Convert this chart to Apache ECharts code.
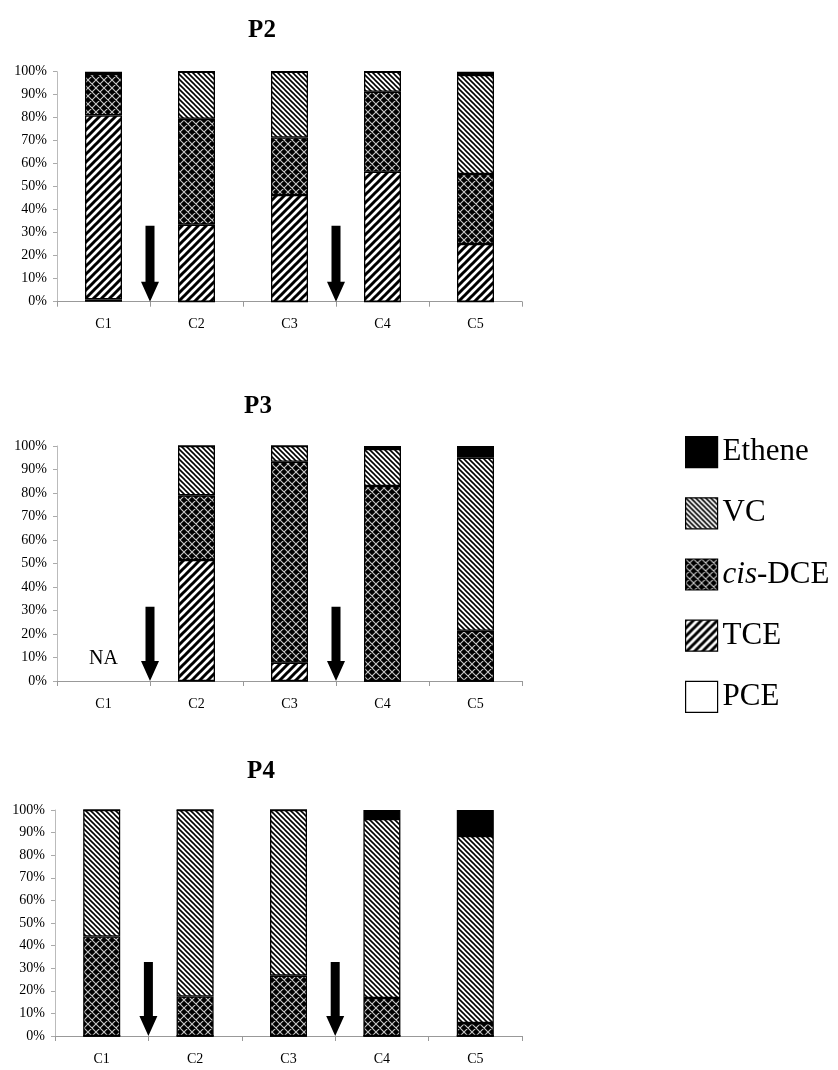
<!DOCTYPE html>
<html>
<head>
<meta charset="utf-8">
<script src="https://cdn.jsdelivr.net/npm/echarts@6/dist/echarts.min.js"></script>
<style>
html,body{margin:0;padding:0;background:#fff;}
#chart{width:838px;height:1070px;}
</style>
</head>
<body>
<div id="chart"></div>
<script>
// ---------- data ----------
const categories = ['C1', 'C2', 'C3', 'C4', 'C5'];
const seriesNames = ['PCE', 'TCE', 'cis-DCE', 'VC', 'Ethene'];
const panelTitles = ['P2', 'P3', 'P4'];
const yTicks = [0, 10, 20, 30, 40, 50, 60, 70, 80, 90, 100];

// P2 (% of total per sample)
const p2PCE    = [1,   0,    0,    0,    0];
const p2TCE    = [80,  33.5, 46.4, 56.5, 25.1];
const p2DCE    = [18,  46,   25,   34.8, 30.4];
const p2VC     = [0,   20.5, 28.6, 8.7,  43.1];
const p2Ethene = [1,   0,    0,    0,    1.4];

// P3 (C1 not available)
const p3PCE    = [null, 0,    0,    0,    0];
const p3TCE    = [null, 51.5, 7.8,  0,    0];
const p3DCE    = [null, 27.5, 85.5, 83,   21.4];
const p3VC     = [null, 21,   6.7,  15.7, 73.6];
const p3Ethene = [null, 0,    0,    1.3,  5];

// P4
const p4PCE    = [0,    0,    0,    0,    0];
const p4TCE    = [0,    0,    0,    0,    0];
const p4DCE    = [44,   17.5, 26.7, 16.8, 5.7];
const p4VC     = [56,   82.5, 73.3, 79.2, 82.8];
const p4Ethene = [0,    0,    0,    4,    11.5];

// arrows between categories: [category after which arrow sits, arrow top (%)]
const p2Arrows = [['C1', 33], ['C3', 33]];
const p3Arrows = [['C1', 31.6], ['C3', 31.6]];
const p4Arrows = [['C1', 32.7], ['C3', 32.7]];
// text notes
const p3Notes = [['C1', 'NA']];

// ---------- patterns ----------
function stripeTile(size, lw, dir, bg, fg) {
  const c = document.createElement('canvas');
  c.width = size; c.height = size;
  const x = c.getContext('2d');
  x.fillStyle = bg; x.fillRect(0, 0, size, size);
  x.strokeStyle = fg; x.lineWidth = lw; x.lineCap = 'square';
  x.beginPath();
  for (let k = -1; k <= 1; k++) {
    if (dir === '/' || dir === 'x') { x.moveTo(k * size, size); x.lineTo(k * size + size, 0); }
    if (dir === '\\' || dir === 'x') { x.moveTo(k * size, 0); x.lineTo(k * size + size, size); }
  }
  x.stroke();
  return c;
}
const fills = {
  'PCE': '#ffffff',
  'TCE': { image: stripeTile(8, 3, '/', '#ffffff', '#000000'), repeat: 'repeat' },
  'cis-DCE': { image: stripeTile(8, 1.1, 'x', '#000000', '#c8c8c8'), repeat: 'repeat' },
  'VC': { image: stripeTile(5, 1.6, '\\', '#ffffff', '#000000'), repeat: 'repeat' },
  'Ethene': '#000000'
};

const panels = [
  { title: panelTitles[0], data: [p2PCE, p2TCE, p2DCE, p2VC, p2Ethene], arrows: p2Arrows, notes: [] },
  { title: panelTitles[1], data: [p3PCE, p3TCE, p3DCE, p3VC, p3Ethene], arrows: p3Arrows, notes: p3Notes },
  { title: panelTitles[2], data: [p4PCE, p4TCE, p4DCE, p4VC, p4Ethene], arrows: p4Arrows, notes: [] }
];
const gridPos = [
  { left: 57, width: 465, top: 71.7, height: 230 },
  { left: 57, width: 465, top: 446, height: 235 },
  { left: 55, width: 467, top: 810, height: 226 }
];
const titlePos = [
  { left: 257, top: 13 },
  { left: 253, top: 389 },
  { left: 256, top: 754 }
];

const FONT = '"Liberation Serif", "Times New Roman", serif';

const option = {
  animation: false,
  backgroundColor: '#fff',
  title: panels.map((p, i) => ({
    text: p.title, left: titlePos[i].left, top: titlePos[i].top, textAlign: 'center',
    textStyle: { fontFamily: FONT, fontWeight: 'bold', fontSize: 25, color: '#000' }
  })),
  grid: gridPos.map(g => Object.assign({ containLabel: false }, g)),
  xAxis: panels.map((p, i) => ({
    type: 'category', gridIndex: i, data: categories,
    axisLine: { lineStyle: { color: '#999', width: 1 } },
    axisTick: { show: true, length: 5, lineStyle: { color: '#999' } },
    axisLabel: { fontFamily: FONT, fontSize: 14, color: '#000', margin: 16 }
  })),
  yAxis: panels.map((p, i) => ({
    type: 'value', gridIndex: i, min: yTicks[0], max: yTicks[yTicks.length - 1], interval: 10,
    axisLine: { show: true, lineStyle: { color: '#bbb', width: 1 } },
    axisTick: { show: true, length: 4, lineStyle: { color: '#aaa' } },
    splitLine: { show: false },
    axisLabel: { fontFamily: FONT, fontSize: 14, color: '#000', margin: 10, formatter: '{value}%' }
  })),
  legend: {
    orient: 'vertical', left: 680, top: 431,
    data: ['Ethene', 'VC', 'cis-DCE', 'TCE', 'PCE'],
    icon: 'rect', itemWidth: 32, itemHeight: 31, itemGap: 29,
    itemStyle: { borderColor: '#000', borderWidth: 1.2 },
    selectedMode: false,
    formatter: name => name === 'cis-DCE' ? '{i|cis}{n|-DCE}' : '{n|' + name + '}',
    textStyle: {
      fontFamily: FONT, fontSize: 31, color: '#000',
      rich: {
        i: { fontFamily: FONT, fontSize: 31, fontStyle: 'italic', color: '#000' },
        n: { fontFamily: FONT, fontSize: 31, color: '#000' }
      }
    }
  },
  series: []
};

panels.forEach((p, pi) => {
  seriesNames.forEach((name, si) => {
    option.series.push({
      name: name, type: 'bar', stack: 'stack' + pi,
      xAxisIndex: pi, yAxisIndex: pi,
      barWidth: 37,
      data: p.data[si],
      itemStyle: { color: fills[name], borderColor: '#000', borderWidth: 1.3 },
      emphasis: { disabled: true }
    });
  });
  option.series.push({
    name: 'arrows' + pi, type: 'custom', xAxisIndex: pi, yAxisIndex: pi,
    data: p.arrows, silent: true, z: 5,
    renderItem: function (params, api) {
      const idx = api.value(0);
      const top = api.value(1);
      const a = api.coord([idx, top]);
      const b = api.coord([idx + 1, 0]);
      const x = (a[0] + b[0]) / 2;
      const yTop = a[1], yTip = b[1];
      const hh = 20, sw = 4.5, hw = 9;
      return {
        type: 'polygon',
        shape: { points: [[x - sw, yTop], [x + sw, yTop], [x + sw, yTip - hh], [x + hw, yTip - hh], [x, yTip], [x - hw, yTip - hh], [x - sw, yTip - hh]] },
        style: { fill: '#000', stroke: null }
      };
    }
  });
  if (p.notes.length) {
    option.series.push({
      name: 'notes' + pi, type: 'custom', xAxisIndex: pi, yAxisIndex: pi,
      data: p.notes.map(n => [n[0], 0, n[1]]), silent: true, z: 5,
      renderItem: function (params, api) {
        const c = api.coord([api.value(0), 0]);
        const txt = p.notes[params.dataIndex][1];
        return {
          type: 'text',
          style: { text: txt, x: c[0], y: c[1] - 22, textAlign: 'center', textVerticalAlign: 'middle',
                   font: '20px ' + FONT, fill: '#000' }
        };
      }
    });
  }
});

const chart = echarts.init(document.getElementById('chart'), null, { renderer: 'canvas' });
chart.setOption(option);
</script>
</body>
</html>
